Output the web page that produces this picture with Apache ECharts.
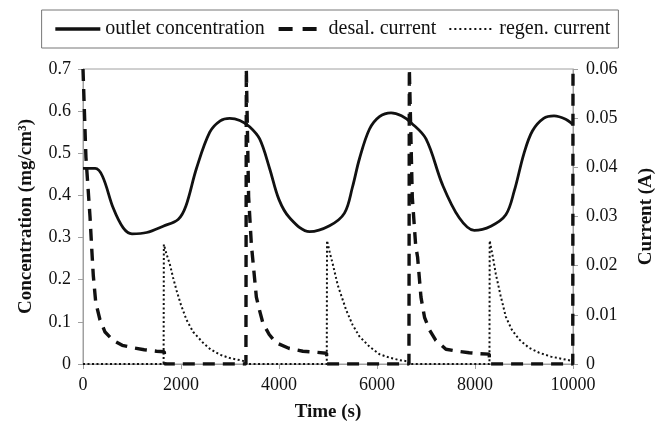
<!DOCTYPE html>
<html>
<head>
<meta charset="utf-8">
<script src="https://cdn.jsdelivr.net/npm/echarts@6/dist/echarts.min.js"></script>
<style>
  html, body { margin: 0; padding: 0; background: #fff; }
  #chart { width: 664px; height: 427px; }
</style>
</head>
<body>
<div id="chart"></div>
<script>
// outlet concentration (mg/cm3), left axis
const concTime = [0, 250, 400, 617, 821, 1000, 1300, 1636, 1941, 2100, 2315, 2587, 2800, 2994, 3200, 3400, 3605, 3808, 4000, 4216, 4623, 5031, 5336, 5500, 5642, 5845, 6050, 6287, 6500, 6700, 7000, 7338, 7678, 7984, 8324, 8629, 8800, 9000, 9171, 9400, 9613, 9851, 10000];
const concValue = [0.464, 0.464, 0.445, 0.37, 0.323, 0.309, 0.312, 0.327, 0.343, 0.375, 0.464, 0.55, 0.577, 0.583, 0.578, 0.563, 0.534, 0.464, 0.39, 0.347, 0.314, 0.328, 0.358, 0.42, 0.487, 0.557, 0.587, 0.596, 0.589, 0.572, 0.534, 0.425, 0.347, 0.317, 0.327, 0.354, 0.41, 0.5, 0.553, 0.583, 0.589, 0.581, 0.568];

// desalination current (A), right axis
const desalTime = [0, 60, 143, 177, 210, 260, 346, 450, 617, 800, 1018, 1250, 1500, 1660, 1667, 3325,
  3333, 3380, 3436, 3538, 3600, 3672, 3800, 3944, 4200, 4487, 4750, 4970, 4980, 6652,
  6660, 6720, 6790, 6829, 6897, 6970, 7067, 7200, 7407, 7650, 7882, 8100, 8290, 8300, 9995, 10000];
const desalValue = [0.06, 0.042, 0.03, 0.0237, 0.018, 0.0125, 0.009, 0.0065, 0.0048, 0.0038, 0.0033, 0.0029, 0.0026, 0.0025, 0, 0,
  0.06, 0.034, 0.0243, 0.0136, 0.011, 0.0083, 0.006, 0.0043, 0.0032, 0.0026, 0.0024, 0.0022, 0, 0,
  0.06, 0.034, 0.024, 0.0217, 0.0136, 0.0095, 0.007, 0.0048, 0.003, 0.0026, 0.0023, 0.0021, 0.002, 0, 0, 0.06];

// regeneration current (A), right axis
const regenTime = [0, 1645, 1650, 1700, 1772, 1840, 1908, 2000, 2112, 2250, 2451, 2600, 2790, 3000, 3198, 3320, 3333,
  4975, 4980, 5040, 5098, 5200, 5370, 5500, 5642, 5850, 6049, 6250, 6456, 6650, 6660,
  8295, 8300, 8360, 8425, 8520, 8629, 8750, 8900, 9100, 9307, 9550, 9851, 10000];
const regenValue = [0, 0, 0.0243, 0.0225, 0.0203, 0.0175, 0.015, 0.012, 0.009, 0.0065, 0.0043, 0.003, 0.0019, 0.0012, 0.0008, 0.0005, 0,
  0, 0.0251, 0.0225, 0.0203, 0.016, 0.011, 0.008, 0.0056, 0.0035, 0.002, 0.0013, 0.0008, 0.0005, 0,
  0, 0.0251, 0.022, 0.0183, 0.014, 0.0096, 0.007, 0.005, 0.0033, 0.0023, 0.0015, 0.0009, 0.0006];

const xTicks = [0, 2000, 4000, 6000, 8000, 10000];

const zip = (xs, ys) => xs.map((x, i) => [x, ys[i]]);
const FONT = '"Liberation Serif", "Times New Roman", serif';
const AXIS_GRAY = '#a0a0a0';

const chart = echarts.init(document.getElementById('chart'));
chart.setOption({
  animation: false,
  legend: {
    top: 10,
    left: 'center',
    padding: [9, 8, 9, 12],
    borderColor: '#777',
    borderWidth: 1,
    itemWidth: 45,
    itemHeight: 14,
    itemGap: 12,
    itemStyle: { opacity: 0 },
    textStyle: { fontFamily: FONT, fontSize: 20, color: '#111' },
    data: [
      { name: 'outlet concentration', lineStyle: { width: 3.4 } },
      { name: 'desal. current', lineStyle: { width: 3.8, type: [14, 10] } },
      { name: 'regen. current', lineStyle: { width: 2, type: [2, 3] } },
    ],
  },
  grid: { left: 83, right: 90, top: 69, bottom: 59, show: true, borderColor: AXIS_GRAY, borderWidth: 1 },
  xAxis: {
    type: 'value',
    min: xTicks[0],
    max: xTicks[xTicks.length - 1],
    interval: 2000,
    name: 'Time (s)',
    nameLocation: 'middle',
    nameGap: 39,
    nameTextStyle: { fontFamily: FONT, fontSize: 19, fontWeight: 'bold', color: '#111' },
    axisLine: { lineStyle: { color: AXIS_GRAY } },
    axisTick: { length: 5, lineStyle: { color: AXIS_GRAY } },
    axisLabel: { margin: 12, fontFamily: FONT, fontSize: 18, color: '#111', formatter: v => String(v) },
    splitLine: { show: false },
  },
  yAxis: [
    {
      type: 'value',
      min: 0,
      max: 0.7,
      interval: 0.1,
      name: 'Concentration (mg/cm³)',
      nameLocation: 'middle',
      nameRotate: 90,
      nameGap: 47,
      nameTextStyle: { fontFamily: FONT, fontSize: 19, fontWeight: 'bold', color: '#111' },
      axisLine: { show: true, lineStyle: { color: AXIS_GRAY } },
      axisTick: { show: true, length: 5, lineStyle: { color: AXIS_GRAY } },
      axisLabel: { margin: 12, fontFamily: FONT, fontSize: 18, color: '#111', formatter: v => (v === 0 ? '0' : v.toFixed(1)) },
      splitLine: { show: false },
    },
    {
      type: 'value',
      position: 'right',
      min: 0,
      max: 0.06,
      interval: 0.01,
      name: 'Current (A)',
      nameLocation: 'middle',
      nameRotate: 90,
      nameGap: 64,
      nameTextStyle: { fontFamily: FONT, fontSize: 19, fontWeight: 'bold', color: '#111' },
      axisLine: { show: true, lineStyle: { color: AXIS_GRAY } },
      axisTick: { show: true, length: 5, lineStyle: { color: AXIS_GRAY } },
      axisLabel: { margin: 13, fontFamily: FONT, fontSize: 18, color: '#111', formatter: v => (v === 0 ? '0' : v.toFixed(2)) },
      splitLine: { show: false },
    },
  ],
  series: [
    {
      name: 'regen. current',
      type: 'line',
      yAxisIndex: 1,
      symbol: 'none',
      data: zip(regenTime, regenValue),
      lineStyle: { color: '#111', width: 2, type: [2, 2.5] },
      itemStyle: { color: '#111' },
      z: 2,
    },
    {
      name: 'desal. current',
      type: 'line',
      yAxisIndex: 1,
      symbol: 'none',
      data: zip(desalTime, desalValue),
      lineStyle: { color: '#111', width: 3.4, type: [12, 8] },
      itemStyle: { color: '#111' },
      z: 3,
    },
    {
      name: 'outlet concentration',
      type: 'line',
      yAxisIndex: 0,
      symbol: 'none',
      smooth: 0.35,
      data: zip(concTime, concValue),
      lineStyle: { color: '#111', width: 2.8 },
      itemStyle: { color: '#111' },
      z: 4,
    },
  ],
});
</script>
</body>
</html>
